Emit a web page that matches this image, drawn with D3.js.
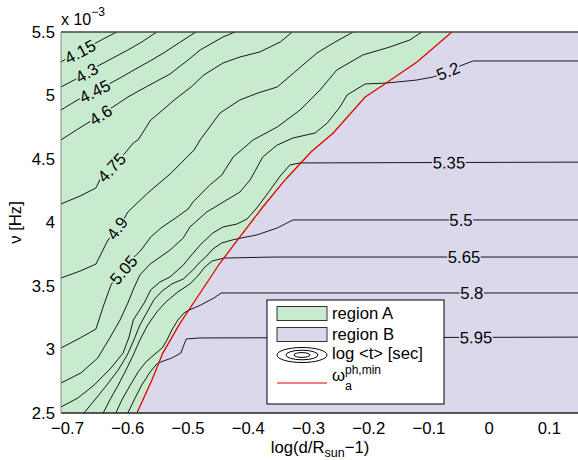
<!DOCTYPE html>
<html><head><meta charset="utf-8">
<script src="https://cdn.jsdelivr.net/npm/d3@7/dist/d3.min.js"></script>
<style>body{margin:0;background:#fff}svg{display:block}</style>
</head><body>
<svg id="chart" width="578" height="460"></svg>
<script>
// ---------- data ----------
const xTicks = [-0.7, -0.6, -0.5, -0.4, -0.3, -0.2, -0.1, 0, 0.1];
const yTicks = [2.5, 3, 3.5, 4, 4.5, 5, 5.5];
const levels = [4.15, 4.3, 4.45, 4.6, 4.75, 4.9, 5.05, 5.2, 5.35, 5.5, 5.65, 5.8, 5.95];
const labelX = [-0.678, -0.667, -0.655, -0.644, -0.627, -0.615, -0.610, -0.067, -0.066, -0.046, -0.041, -0.028, -0.021];

const c415 = [[-0.71,5.264],[-0.702,5.287],[-0.678,5.343],[-0.655,5.406],[-0.637,5.453],[-0.617,5.5]];
const c430 = [[-0.71,5.067],[-0.688,5.122],[-0.667,5.177],[-0.649,5.232],[-0.624,5.295],[-0.599,5.358],[-0.576,5.421],[-0.551,5.5]];
const c445 = [[-0.71,4.886],[-0.680,4.972],[-0.655,5.043],[-0.630,5.091],[-0.609,5.146],[-0.589,5.201],[-0.562,5.272],[-0.537,5.343],[-0.512,5.421],[-0.486,5.5]];
const c460 = [[-0.71,4.650],[-0.682,4.736],[-0.644,4.846],[-0.624,4.909],[-0.599,4.988],[-0.566,5.075],[-0.529,5.169],[-0.499,5.280],[-0.479,5.358],[-0.441,5.461],[-0.421,5.5]];
const c475 = [[-0.71,4.146],[-0.678,4.209],[-0.652,4.272],[-0.644,4.350],[-0.627,4.437],[-0.605,4.539],[-0.590,4.626],[-0.582,4.650],[-0.561,4.807],[-0.541,4.886],[-0.522,4.965],[-0.494,5.067],[-0.473,5.161],[-0.441,5.256],[-0.413,5.303],[-0.380,5.343],[-0.346,5.421],[-0.326,5.5]];
const c490 = [[-0.71,3.563],[-0.678,3.618],[-0.652,3.673],[-0.632,3.862],[-0.615,3.949],[-0.599,4.083],[-0.566,4.232],[-0.527,4.390],[-0.489,4.571],[-0.479,4.650],[-0.446,4.862],[-0.413,4.965],[-0.383,5.020],[-0.351,5.067],[-0.318,5.201],[-0.285,5.335],[-0.258,5.413],[-0.225,5.5]];
const c505 = [[-0.71,3.012],[-0.678,3.091],[-0.652,3.161],[-0.639,3.350],[-0.627,3.508],[-0.610,3.642],[-0.590,3.720],[-0.577,3.783],[-0.561,3.886],[-0.544,3.957],[-0.522,4.028],[-0.499,4.106],[-0.491,4.161],[-0.463,4.295],[-0.443,4.374],[-0.424,4.516],[-0.391,4.650],[-0.351,4.752],[-0.313,4.886],[-0.280,5.043],[-0.252,5.201],[-0.209,5.319],[-0.164,5.382],[-0.131,5.437],[-0.111,5.5]];
const c520 = [[-0.71,2.736],[-0.677,2.815],[-0.649,2.933],[-0.629,3.091],[-0.612,3.232],[-0.599,3.366],[-0.589,3.484],[-0.579,3.587],[-0.562,3.673],[-0.529,3.783],[-0.507,3.878],[-0.496,3.965],[-0.468,4.083],[-0.443,4.154],[-0.413,4.240],[-0.396,4.335],[-0.375,4.516],[-0.351,4.610],[-0.325,4.665],[-0.288,4.705],[-0.268,4.783],[-0.247,4.909],[-0.235,5.004],[-0.205,5.091],[-0.170,5.098],[-0.119,5.122],[-0.092,5.146],[-0.067,5.185],[-0.048,5.232],[-0.026,5.272],[0.2,5.272]];
const c535 = [[-0.71,2.547],[-0.682,2.618],[-0.655,2.720],[-0.627,2.854],[-0.607,2.972],[-0.597,3.098],[-0.590,3.232],[-0.572,3.366],[-0.561,3.469],[-0.546,3.531],[-0.529,3.571],[-0.507,3.665],[-0.496,3.728],[-0.479,3.823],[-0.458,3.917],[-0.441,3.965],[-0.418,3.988],[-0.401,4.028],[-0.385,4.114],[-0.370,4.209],[-0.358,4.287],[-0.346,4.366],[-0.330,4.453],[-0.313,4.469],[0.2,4.476]];
const c550 = [[-0.672,2.5],[-0.654,2.602],[-0.634,2.720],[-0.615,2.839],[-0.600,2.957],[-0.589,3.075],[-0.579,3.193],[-0.567,3.295],[-0.556,3.390],[-0.542,3.461],[-0.526,3.516],[-0.507,3.555],[-0.491,3.626],[-0.479,3.689],[-0.468,3.736],[-0.458,3.791],[-0.443,3.839],[-0.426,3.862],[-0.411,3.878],[-0.385,3.902],[-0.351,3.957],[-0.325,4.020],[-0.297,4.020],[0.2,4.020]];
const c565 = [[-0.640,2.5],[-0.629,2.602],[-0.615,2.720],[-0.602,2.839],[-0.590,2.957],[-0.579,3.075],[-0.566,3.193],[-0.551,3.295],[-0.536,3.374],[-0.516,3.453],[-0.496,3.516],[-0.483,3.579],[-0.471,3.650],[-0.459,3.697],[-0.439,3.720],[-0.358,3.728],[0.2,3.728]];
const c580 = [[-0.619,2.5],[-0.609,2.602],[-0.595,2.720],[-0.582,2.823],[-0.569,2.902],[-0.554,2.965],[-0.542,3.012],[-0.534,3.075],[-0.526,3.154],[-0.516,3.232],[-0.506,3.287],[-0.497,3.311],[-0.478,3.350],[-0.456,3.406],[-0.444,3.445],[0.2,3.445]];
const c595 = [[-0.599,2.5],[-0.587,2.618],[-0.576,2.720],[-0.562,2.823],[-0.551,2.886],[-0.544,2.902],[-0.526,2.933],[-0.511,2.972],[-0.506,3.035],[-0.502,3.083],[-0.479,3.091],[0.2,3.098]];

// omega_a^{ph,min} boundary between region A and region B
const boundaryRed = [[-0.584,2.5],[-0.559,2.760],[-0.541,2.972],[-0.512,3.209],[-0.479,3.445],[-0.446,3.681],[-0.413,3.886],[-0.375,4.122],[-0.338,4.335],[-0.295,4.555],[-0.258,4.705],[-0.205,4.988],[-0.170,5.098],[-0.119,5.264],[-0.061,5.5]];

const legendLabels = ["region A", "region B", "log <t> [sec]"];

const contours = [c415, c430, c445, c460, c475, c490, c505, c520, c535, c550, c565, c580, c595];

// ---------- layout ----------
const FONT = "'Liberation Sans', Arial, Helvetica, sans-serif";
const FS = 16.7;
const GREEN = "#c8ebd0", LAV = "#dbd8ec";
const svg = d3.select("#chart");
const x = d3.scaleLinear().domain([-0.71, 0.15]).range([61, 579]);
const y = d3.scaleLinear().domain([2.5, 5.5]).range([413, 32]);
const [X0, X1] = x.range(), [Y0, Y1] = [y.range()[1], y.range()[0]];

const defs = svg.append("defs");
defs.append("clipPath").attr("id", "plotClip").append("rect")
  .attr("x", X0).attr("y", Y0).attr("width", X1 - X0).attr("height", Y1 - Y0);

// backgrounds
const plot = svg.append("g").attr("clip-path", "url(#plotClip)");
plot.append("rect").attr("x", X0).attr("y", Y0).attr("width", X1 - X0).attr("height", Y1 - Y0).attr("fill", LAV);
const greenPoly = [[x.domain()[0], 5.5], [x.domain()[0], 2.5], ...boundaryRed];
plot.append("path").attr("d", d3.line().x(d => x(d[0])).y(d => y(d[1]))(greenPoly) + "Z").attr("fill", GREEN);

// label placement
const mask = defs.append("mask").attr("id", "labelMask").attr("maskUnits", "userSpaceOnUse")
  .attr("x", 0).attr("y", 0).attr("width", 600).attr("height", 460);
mask.append("rect").attr("x", 0).attr("y", 0).attr("width", 600).attr("height", 460).attr("fill", "#fff");

const labelsG = svg.append("g");
function placeOnLine(pts, lx, w) {
  const cum = [0];
  for (let i = 1; i < pts.length; i++) cum.push(cum[i-1] + Math.hypot(pts[i][0]-pts[i-1][0], pts[i][1]-pts[i-1][1]));
  let s0 = 0;
  for (let i = 1; i < pts.length; i++) {
    const a = pts[i-1], b = pts[i];
    if ((a[0]-lx)*(b[0]-lx) <= 0 && a[0] !== b[0]) { const t = (lx-a[0])/(b[0]-a[0]); s0 = cum[i-1] + t*(cum[i]-cum[i-1]); break; }
  }
  const at = s => {
    for (let i = 1; i < pts.length; i++) if (s <= cum[i] || i === pts.length-1) {
      const t = (s-cum[i-1])/((cum[i]-cum[i-1]) || 1);
      return [pts[i-1][0] + t*(pts[i][0]-pts[i-1][0]), pts[i-1][1] + t*(pts[i][1]-pts[i-1][1])];
    }
  };
  const p1 = at(s0 - w/2), p2 = at(s0 + w/2);
  return { c: [(p1[0]+p2[0])/2, (p1[1]+p2[1])/2], ang: Math.atan2(p2[1]-p1[1], p2[0]-p1[0]) * 180 / Math.PI };
}

contours.forEach((line, i) => {
  const pts = line.map(d => [x(d[0]), y(d[1])]);
  const t = labelsG.append("text").attr("font-family", FONT).attr("font-size", FS).attr("fill", "#000")
    .attr("text-anchor", "middle").attr("dy", "0.36em").text(String(levels[i]));
  const w = t.node().getComputedTextLength();
  const p = placeOnLine(pts, x(labelX[i]), w + 2);
  t.attr("transform", `translate(${p.c[0]},${p.c[1]}) rotate(${p.ang})`);
  mask.append("rect").attr("x", -(w + 1) / 2).attr("y", -7).attr("width", w + 1).attr("height", 14)
    .attr("fill", "#000").attr("transform", `translate(${p.c[0]},${p.c[1]}) rotate(${p.ang})`);
});

// contour lines
const lineGen = d3.line().x(d => x(d[0])).y(d => y(d[1]));
plot.append("g").attr("mask", "url(#labelMask)").selectAll("path").data(contours).join("path")
  .attr("d", lineGen).attr("fill", "none").attr("stroke", "#000").attr("stroke-width", 0.9).attr("stroke-linejoin", "round");

// red boundary
plot.append("path").attr("d", lineGen(boundaryRed)).attr("fill", "none").attr("stroke", "#e00000").attr("stroke-width", 1.3);

labelsG.raise();

// axes box
const box = svg.append("g");
box.append("line").attr("x1", X0).attr("x2", X1).attr("y1", Y0).attr("y2", Y0).attr("stroke", "#444").attr("stroke-width", 1.6);
box.append("line").attr("x1", X0).attr("x2", X1).attr("y1", Y1).attr("y2", Y1).attr("stroke", "#222").attr("stroke-width", 1.6);
box.append("line").attr("x1", X0).attr("x2", X0).attr("y1", Y0).attr("y2", Y1).attr("stroke", "#888").attr("stroke-width", 1);

// tick labels
const xAxis = d3.axisBottom(x).tickValues(xTicks).tickSize(0).tickPadding(9)
  .tickFormat(d => (d < 0 ? "\u2212" + Math.abs(d) : String(d)));
const gx = svg.append("g").attr("transform", `translate(0,${Y1})`).call(xAxis);
gx.select(".domain").remove();
gx.selectAll("text").attr("font-family", FONT).attr("font-size", FS).attr("fill", "#000");

const yAxis = d3.axisLeft(y).tickValues(yTicks).tickSize(0).tickPadding(6).tickFormat(d => String(d));
const gy = svg.append("g").attr("transform", `translate(${X0},0)`).call(yAxis);
gy.select(".domain").remove();
gy.selectAll("text").attr("font-family", FONT).attr("font-size", FS).attr("fill", "#000");

// exponent
const ex = svg.append("text").attr("x", 61).attr("y", 25).attr("font-family", FONT).attr("font-size", 16).attr("fill", "#000");
ex.append("tspan").text("x 10");
ex.append("tspan").attr("dy", -9).attr("font-size", 12).text("\u22123");

// axis labels
const xl = svg.append("text").attr("x", 320).attr("y", 453).attr("text-anchor", "middle")
  .attr("font-family", FONT).attr("font-size", FS).attr("fill", "#000");
xl.append("tspan").text("log(d/R");
xl.append("tspan").attr("dy", 4).attr("font-size", 12.5).text("sun");
xl.append("tspan").attr("dy", -4).text("\u22121)");

svg.append("text").attr("transform", `translate(21,${(Y0 + Y1) / 2}) rotate(-90)`).attr("text-anchor", "middle")
  .attr("font-family", FONT).attr("font-size", FS).attr("fill", "#000").text("\u03bd [Hz]");

// legend
const lg = svg.append("g");
lg.append("rect").attr("x", 267).attr("y", 300).attr("width", 177).attr("height", 104)
  .attr("fill", "#fff").attr("stroke", "#000").attr("stroke-width", 1);
lg.append("rect").attr("x", 277).attr("y", 306.5).attr("width", 50).attr("height", 14)
  .attr("fill", GREEN).attr("stroke", "#333").attr("stroke-width", 1);
lg.append("rect").attr("x", 277).attr("y", 327.5).attr("width", 50).attr("height", 14)
  .attr("fill", LAV).attr("stroke", "#333").attr("stroke-width", 1);
[[25, 7.5], [16, 4.8], [8, 2.4]].forEach(r => lg.append("ellipse").attr("cx", 302).attr("cy", 355)
  .attr("rx", r[0]).attr("ry", r[1]).attr("fill", "none").attr("stroke", "#000").attr("stroke-width", 1));
lg.append("line").attr("x1", 277).attr("x2", 327).attr("y1", 383).attr("y2", 383).attr("stroke", "#e00000").attr("stroke-width", 1.2);
const lgText = [319, 340, 359];
legendLabels.forEach((s, i) => lg.append("text").attr("x", 332).attr("y", lgText[i])
  .attr("font-family", FONT).attr("font-size", FS).attr("fill", "#000").text(s));
lg.append("text").attr("x", 332).attr("y", 381).attr("font-family", FONT).attr("font-size", FS).attr("fill", "#000").text("\u03c9");
lg.append("text").attr("x", 345).attr("y", 374).attr("font-family", FONT).attr("font-size", 12).attr("fill", "#000").text("ph,min");
lg.append("text").attr("x", 345).attr("y", 390).attr("font-family", FONT).attr("font-size", 12.5).attr("fill", "#000").text("a");
</script>
</body></html>
